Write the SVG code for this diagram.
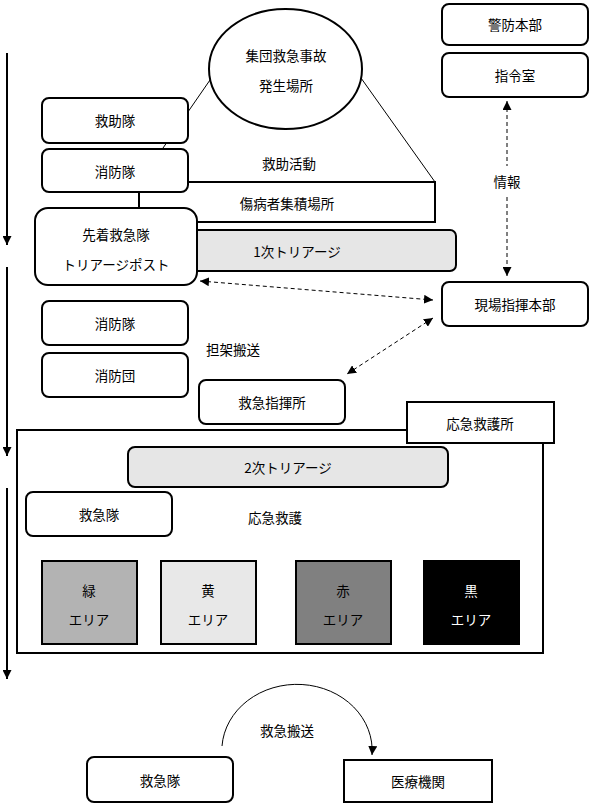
<svg xmlns="http://www.w3.org/2000/svg" width="590" height="804" viewBox="0 0 590 804">
<style>
text{font-family:"Noto Sans CJK JP","Noto Sans",sans-serif;font-size:13.5px;fill:#000;text-anchor:middle;dominant-baseline:central}
.b{fill:#fff;stroke:#000;stroke-width:2}
.g{fill:#e6e6e6;stroke:#000;stroke-width:2}
.thin{fill:none;stroke:#000;stroke-width:1}
.flow{fill:none;stroke:#000;stroke-width:2}
.dash{fill:none;stroke:#000;stroke-width:1;stroke-dasharray:4 3}
.w{fill:#fff}
</style>
<defs>
<marker id="ah" viewBox="0 0 10 10" refX="10" refY="5" markerWidth="9" markerHeight="9" markerUnits="userSpaceOnUse" orient="auto-start-reverse">
<path d="M0,0 L10,5 L0,10 Z" fill="#000"/>
</marker>
</defs>
<g id="connectors">
<line class="flow" x1="7" y1="53" x2="7" y2="245" marker-end="url(#ah)"/>
<line class="flow" x1="7" y1="267" x2="7" y2="456" marker-end="url(#ah)"/>
<line class="flow" x1="7" y1="488" x2="7" y2="679" marker-end="url(#ah)"/>
<line class="thin" x1="210" y1="80" x2="163" y2="148"/>
<line class="thin" x1="361" y1="78" x2="435" y2="182"/>
<line class="flow" x1="139" y1="192" x2="139" y2="208"/>
<line class="dash" x1="507" y1="101" x2="507" y2="166" marker-start="url(#ah)"/>
<line class="dash" x1="507" y1="197" x2="507" y2="276" marker-end="url(#ah)"/>
<line class="dash" x1="200" y1="281" x2="433" y2="300" marker-start="url(#ah)" marker-end="url(#ah)"/>
<line class="dash" x1="433" y1="318" x2="347" y2="374" marker-start="url(#ah)" marker-end="url(#ah)"/>
<path class="thin" d="M222,746 A75,66 0 0 1 372,755" marker-end="url(#ah)"/>
</g>
<g id="accident-site">
<ellipse class="b" cx="285.5" cy="69" rx="76.5" ry="60"/>
<text x="286" y="55">集団救急事故</text>
<text x="286" y="85">発生場所</text>
</g>
<g id="casualty-collection">
<rect class="b" x="139" y="182" width="296" height="40"/>
<text x="287" y="203">傷病者集積場所</text>
</g>
<g id="rescue-activity"><text x="289" y="163">救助活動</text></g>
<g id="rescue-team">
<rect class="b" x="42" y="98" width="146" height="45" rx="7"/>
<text x="115" y="120">救助隊</text>
</g>
<g id="fire-team-1">
<rect class="b" x="42" y="149" width="146" height="43" rx="7"/>
<text x="115" y="171">消防隊</text>
</g>
<g id="triage-1">
<rect class="g" x="180" y="230" width="276" height="41" rx="6"/>
<text x="297" y="251">1次トリアージ</text>
</g>
<g id="first-ambulance">
<rect class="b" x="35" y="208" width="162" height="77" rx="13"/>
<text x="116" y="234">先着救急隊</text>
<text x="116" y="264">トリアージポスト</text>
</g>
<g id="keibo-hq">
<rect class="b" x="442" y="4" width="146" height="41" rx="7"/>
<text x="515" y="24">警防本部</text>
</g>
<g id="command-room">
<rect class="b" x="442" y="53" width="146" height="44" rx="7"/>
<text x="515" y="75">指令室</text>
</g>
<g id="info-label"><text x="507" y="181">情報</text></g>
<g id="site-hq">
<rect class="b" x="442" y="282" width="146" height="44" rx="7"/>
<text x="515" y="304">現場指揮本部</text>
</g>
<g id="fire-team-2">
<rect class="b" x="42" y="301" width="146" height="44" rx="7"/>
<text x="115" y="323">消防隊</text>
</g>
<g id="fire-corps">
<rect class="b" x="42" y="353" width="146" height="44" rx="7"/>
<text x="115" y="375">消防団</text>
</g>
<g id="stretcher-label"><text x="233" y="349">担架搬送</text></g>
<g id="ems-command">
<rect class="b" x="199" y="380" width="146" height="44" rx="7"/>
<text x="272" y="402">救急指揮所</text>
</g>
<g id="first-aid-area">
<rect class="b" x="17" y="430" width="526" height="223"/>
</g>
<g id="first-aid-station">
<rect class="b" x="407" y="402" width="147" height="41"/>
<text x="480" y="423">応急救護所</text>
</g>
<g id="triage-2">
<rect class="g" x="128" y="447" width="320" height="40" rx="7"/>
<text x="288" y="467">2次トリアージ</text>
</g>
<g id="ambulance-team-1">
<rect class="b" x="26" y="492" width="146" height="44" rx="7"/>
<text x="99" y="514">救急隊</text>
</g>
<g id="first-aid-label"><text x="275" y="517">応急救護</text></g>
<g id="green-area">
<rect x="42" y="561" width="95" height="83" fill="#b3b3b3" stroke="#000" stroke-width="2"/>
<text x="89" y="590">緑</text>
<text x="89" y="619">エリア</text>
</g>
<g id="yellow-area">
<rect x="161" y="561" width="95" height="83" fill="#e8e8e8" stroke="#000" stroke-width="2"/>
<text x="208" y="590">黄</text>
<text x="208" y="619">エリア</text>
</g>
<g id="red-area">
<rect x="296" y="561" width="95" height="83" fill="#808080" stroke="#000" stroke-width="2"/>
<text x="343" y="590">赤</text>
<text x="343" y="619">エリア</text>
</g>
<g id="black-area">
<rect x="423" y="560" width="97" height="85" fill="#000"/>
<text x="471" y="590" class="w">黒</text>
<text x="471" y="619" class="w">エリア</text>
</g>
<g id="transport-label"><text x="287" y="730">救急搬送</text></g>
<g id="ambulance-team-2">
<rect class="b" x="87" y="757" width="146" height="45" rx="7"/>
<text x="160" y="780">救急隊</text>
</g>
<g id="hospital">
<rect class="b" x="344" y="760" width="148" height="42"/>
<text x="418" y="781">医療機関</text>
</g>
</svg>
